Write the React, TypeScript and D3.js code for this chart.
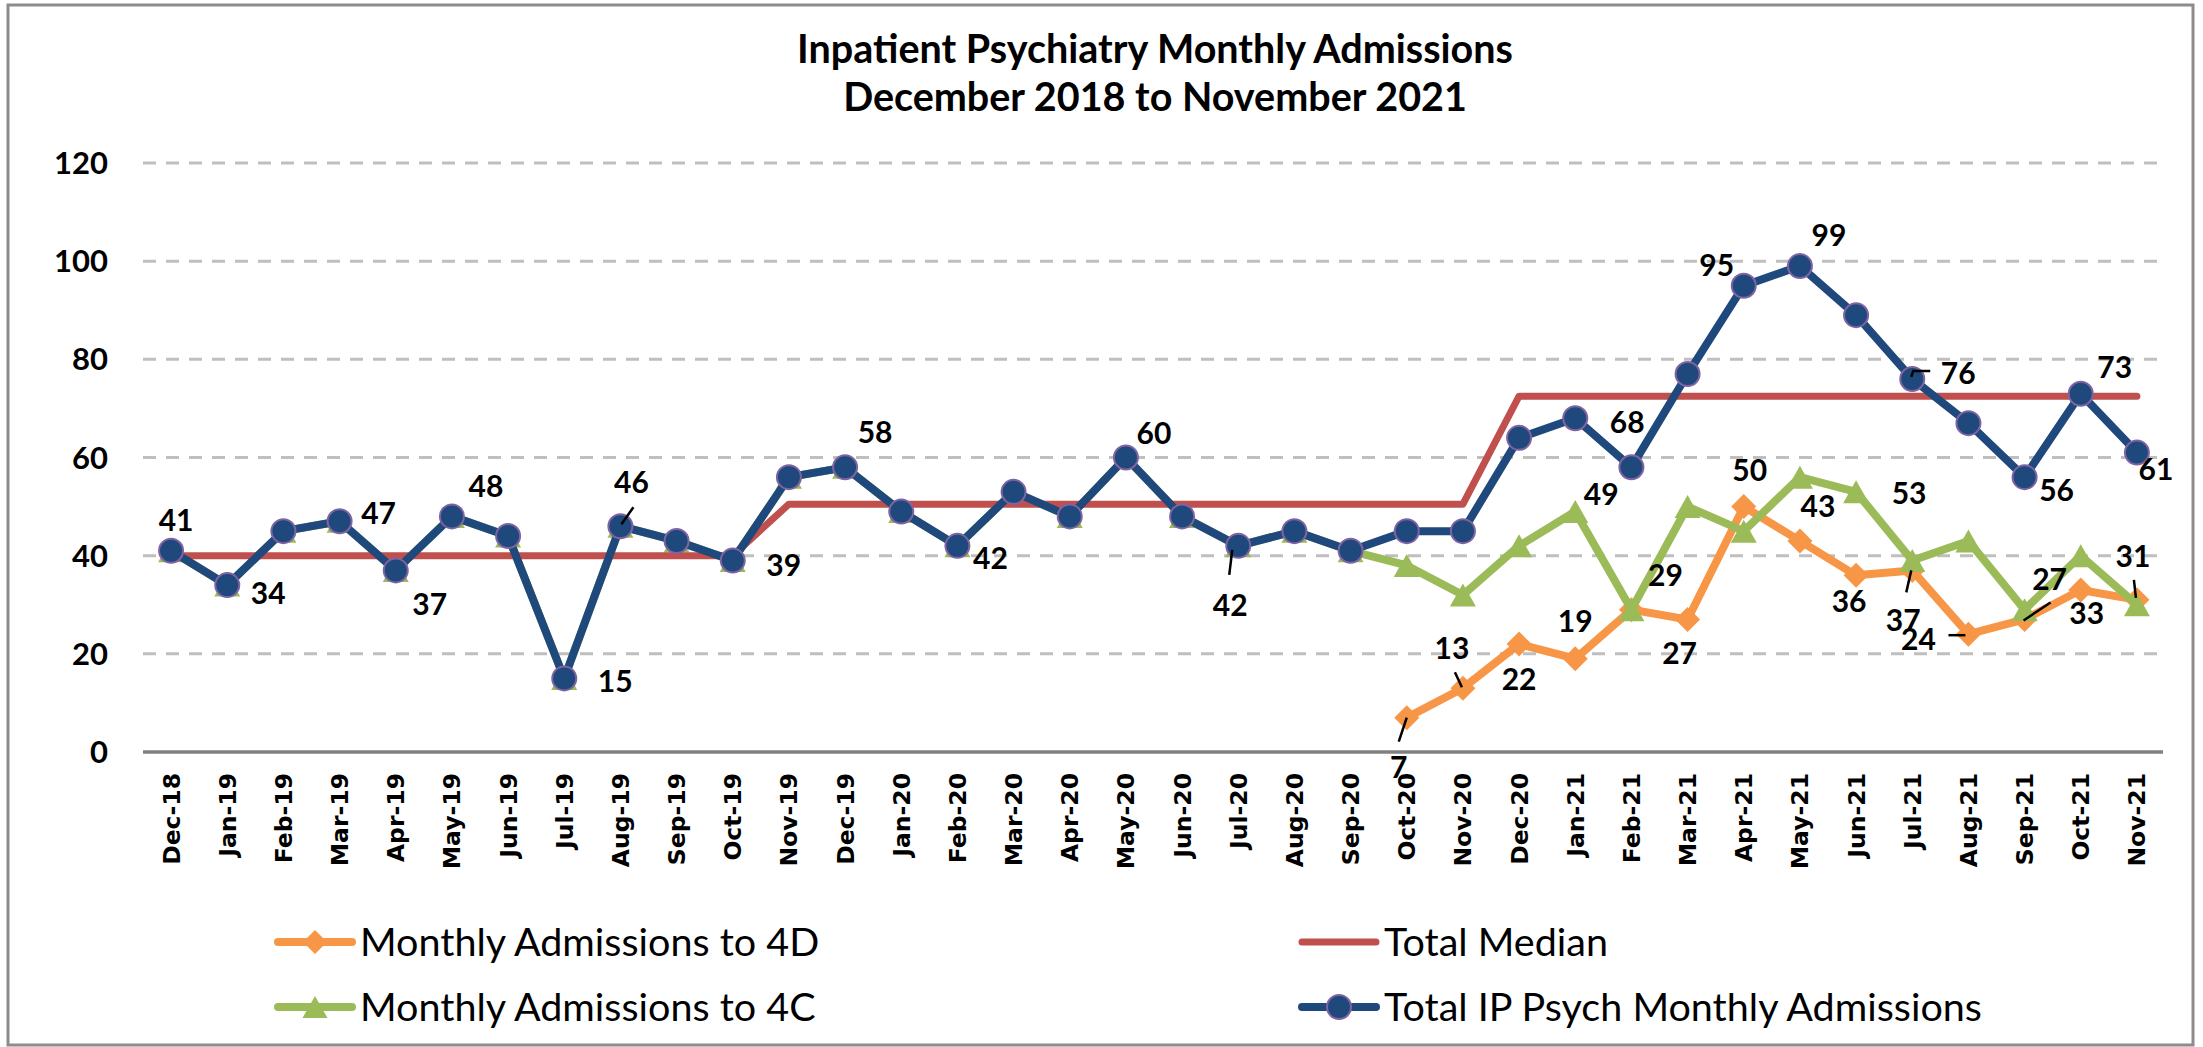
import React from 'react';
import * as d3 from 'd3';

// chart data
const months = [
  'Dec-18', 'Jan-19', 'Feb-19', 'Mar-19', 'Apr-19', 'May-19', 'Jun-19', 'Jul-19', 'Aug-19', 'Sep-19',
  'Oct-19', 'Nov-19', 'Dec-19', 'Jan-20', 'Feb-20', 'Mar-20', 'Apr-20', 'May-20', 'Jun-20', 'Jul-20',
  'Aug-20', 'Sep-20', 'Oct-20', 'Nov-20', 'Dec-20', 'Jan-21', 'Feb-21', 'Mar-21', 'Apr-21', 'May-21',
  'Jun-21', 'Jul-21', 'Aug-21', 'Sep-21', 'Oct-21', 'Nov-21',
];

const admissions4D: (number | null)[] = [
  null, null, null, null, null, null, null, null, null, null, null,
  null, null, null, null, null, null, null, null, null, null, null,
  7, 13, 22, 19, 29, 27, 50, 43, 36, 37, 24, 27, 33, 31,
];

const admissions4C = [
  41, 34, 45, 47, 37, 48, 44, 15, 46, 43, 39, 56, 58, 49, 42, 53, 48, 60, 48, 42, 45, 41,
  38, 32, 42, 49, 29, 50, 45, 56, 53, 39, 43, 29, 40, 30,
];

const totalMedian = [
  40, 40, 40, 40, 40, 40, 40, 40, 40, 40, 40,
  50.5, 50.5, 50.5, 50.5, 50.5, 50.5, 50.5, 50.5, 50.5, 50.5, 50.5, 50.5, 50.5,
  72.5, 72.5, 72.5, 72.5, 72.5, 72.5, 72.5, 72.5, 72.5, 72.5, 72.5, 72.5,
];

const totalIP = [
  41, 34, 45, 47, 37, 48, 44, 15, 46, 43, 39, 56, 58, 49, 42, 53, 48, 60, 48, 42, 45, 41,
  45, 45, 64, 68, 58, 77, 95, 99, 89, 76, 67, 56, 73, 61,
];

const yTicks = [0, 20, 40, 60, 80, 100, 120];

const titleLines = ['Inpatient Psychiatry Monthly Admissions', 'December 2018 to November 2021'];

// label placement: [index, dx, dy, leader?]
type Lbl = [number, number, number, number[][]?];
const labels4D: Lbl[] = [
  [22, -8, 48, [[0, 0], [-8, 24]]], [23, -11, -41, [[-8, -16], [-1, -1]]], [24, 0, 34], [25, 0, -39],
  [27, -8, 33], [28, 6, -38], [29, 18, -36], [30, -7, 25], [31, -9, 49, [[-6, 22], [-1, 0]]],
  [32, -50, 4, [[-20, 1], [-3, 1]]], [33, 25, -41, [[-1, 1], [26, -17]]], [34, 6, 22],
  [35, -4, -45, [[-3, -20], [-1, -2]]],
];
const labels4C: Lbl[] = [[25, 26, -18], [26, 34, -36], [30, 53, 0]];
const labelsTotal: Lbl[] = [
  [0, 5, -32], [1, 41, 7], [3, 39, -9], [4, 34, 33], [5, 34, -31], [7, 51, 2],
  [8, 11, -45, [[1, -2], [13, -19]]], [10, 51, 3], [12, 30, -36], [14, 33, 11], [17, 28, -26],
  [19, -8, 58, [[-6, 4], [-9, 29]]], [25, 52, 3], [28, -27, -22], [29, 29, -32],
  [31, 46, -7, [[-1, -2], [1, -8], [18, -8]]], [33, 32, 12], [34, 34, -28], [35, 19, 15],
];

const C = {
  orange: '#F79646',
  green: '#9BBB59',
  red: '#C0504D',
  blue: '#1F497D',
  purple: '#8064A2',
  grid: '#BFBFBF',
  axis: '#808080',
};

const W = 2203;
const H = 1047;
const LABEL_FONT = 'Lato, "Open Sans", sans-serif';

const x = d3.scaleBand<string>().domain(months).range([143, 2165]);
const y = d3.scaleLinear().domain([0, 120]).range([752, 163]);
const cx = (i: number) => (x(months[i]) as number) + x.bandwidth() / 2;

const diamond = (px: number, py: number, r = 12.5) =>
  `M${px},${py - r}L${px + r},${py}L${px},${py + r}L${px - r},${py}Z`;
const triangle = (px: number, py: number, w = 26, h = 23) =>
  `M${px},${py - h / 2}L${px + w / 2},${py + h / 2}L${px - w / 2},${py + h / 2}Z`;

function seriesPath(values: (number | null)[]) {
  return d3
    .line<number | null>()
    .defined((d) => d != null)
    .x((_, i) => cx(i))
    .y((d) => y(d as number))(values) as string;
}

function Labels({ specs, values }: { specs: Lbl[]; values: (number | null)[] }) {
  return (
    <g>
      {specs.map(([i, dx, dy, leader]) => {
        const px = cx(i);
        const py = y(values[i] as number);
        return (
          <g key={i}>
            {leader && (
              <polyline
                points={leader.map(([a, b]) => `${px + a},${py + b}`).join(' ')}
                fill="none"
                stroke="#000"
                strokeWidth={2.5}
              />
            )}
            <text
              x={px + dx}
              y={py + dy}
              textAnchor="middle"
              dominantBaseline="central"
              fontFamily={LABEL_FONT}
              fontWeight="bold"
              fontSize={30}
              fill="#000"
            >
              {values[i]}
            </text>
          </g>
        );
      })}
    </g>
  );
}

const legendItems = [
  { name: 'Monthly Admissions to 4D', color: C.orange, marker: 'diamond', lx: 278, ly: 942 },
  { name: 'Monthly Admissions to 4C', color: C.green, marker: 'triangle', lx: 278, ly: 1007 },
  { name: 'Total Median', color: C.red, marker: 'none', lx: 1302, ly: 942 },
  { name: 'Total IP Psych Monthly Admissions', color: C.blue, marker: 'circle', lx: 1302, ly: 1007 },
];

export default function App() {
  return (
    <div style={{ position: 'absolute', left: 0, top: 0 }}>
      <svg width={W} height={H} style={{ display: 'block' }}>
        <rect x={0} y={0} width={W} height={H} fill="#fff" />
        <rect x={8} y={5} width={2185} height={1040} fill="#fff" stroke="#8c8c8c" strokeWidth={3} />

        {/* title */}
        {titleLines.map((t, i) => (
          <text
            key={t}
            x={1155}
            y={63 + i * 48}
            textAnchor="middle"
            fontFamily={LABEL_FONT}
            fontWeight="bold"
            fontSize={39.5}
            fill="#000"
          >
            {t}
          </text>
        ))}

        {/* grid + y axis */}
        {yTicks.map((t) => (
          <g key={t}>
            {t > 0 && (
              <line
                x1={143}
                x2={2161}
                y1={y(t)}
                y2={y(t)}
                stroke={C.grid}
                strokeWidth={3}
                strokeDasharray="13 10"
              />
            )}
            <text
              x={108}
              y={y(t)}
              dy="0.36em"
              textAnchor="end"
              fontFamily={LABEL_FONT}
              fontWeight="bold"
              fontSize={31}
              fill="#000"
            >
              {t}
            </text>
          </g>
        ))}
        <line x1={143} x2={2163} y1={y(0)} y2={y(0)} stroke={C.axis} strokeWidth={3.5} />

        {/* x labels */}
        {months.map((m, i) => (
          <text
            key={m}
            transform={`translate(${cx(i)},773) rotate(-90)`}
            dy="0.36em"
            textAnchor="end"
            fontFamily='"DejaVu Sans", Verdana, sans-serif'
            fontWeight="bold"
            fontSize={23.5}
            fill="#000"
          >
            {m}
          </text>
        ))}

        {/* series: 4D */}
        <path d={seriesPath(admissions4D)} fill="none" stroke={C.orange} strokeWidth={8} strokeLinejoin="round" />
        {admissions4D.map((v, i) =>
          v == null ? null : <path key={i} d={diamond(cx(i), y(v))} fill={C.orange} />
        )}

        {/* series: 4C */}
        <path d={seriesPath(admissions4C)} fill="none" stroke={C.green} strokeWidth={8} strokeLinejoin="round" />
        {admissions4C.map((v, i) => (
          <path key={i} d={triangle(cx(i), y(v))} fill={C.green} />
        ))}

        {/* median */}
        <path
          d={seriesPath(totalMedian)}
          fill="none"
          stroke={C.red}
          strokeWidth={7}
          strokeLinecap="round"
          strokeLinejoin="round"
        />

        {/* total */}
        <path d={seriesPath(totalIP)} fill="none" stroke={C.blue} strokeWidth={8} strokeLinejoin="round" />
        {totalIP.map((v, i) => (
          <circle key={i} cx={cx(i)} cy={y(v)} r={12} fill={C.blue} stroke={C.purple} strokeWidth={2} />
        ))}

        {/* data labels */}
        <Labels specs={labels4D} values={admissions4D} />
        <Labels specs={labels4C} values={admissions4C} />
        <Labels specs={labelsTotal} values={totalIP} />

        {/* legend */}
        {legendItems.map((d) => (
          <g key={d.name}>
            <line
              x1={d.lx}
              x2={d.lx + 74}
              y1={d.ly}
              y2={d.ly}
              stroke={d.color}
              strokeWidth={d.marker === 'none' ? 7 : 8}
              strokeLinecap="round"
            />
            {d.marker === 'diamond' && <path d={diamond(d.lx + 37, d.ly, 12)} fill={d.color} />}
            {d.marker === 'triangle' && <path d={triangle(d.lx + 37, d.ly, 25, 22)} fill={d.color} />}
            {d.marker === 'circle' && (
              <circle cx={d.lx + 37} cy={d.ly} r={12} fill={d.color} stroke={C.purple} strokeWidth={2} />
            )}
            <text
              x={d.lx + 82}
              y={d.ly + 14}
              fontFamily={LABEL_FONT}
              fontSize={39.5}
              fill="#000"
            >
              {d.name}
            </text>
          </g>
        ))}
      </svg>
    </div>
  );
}
